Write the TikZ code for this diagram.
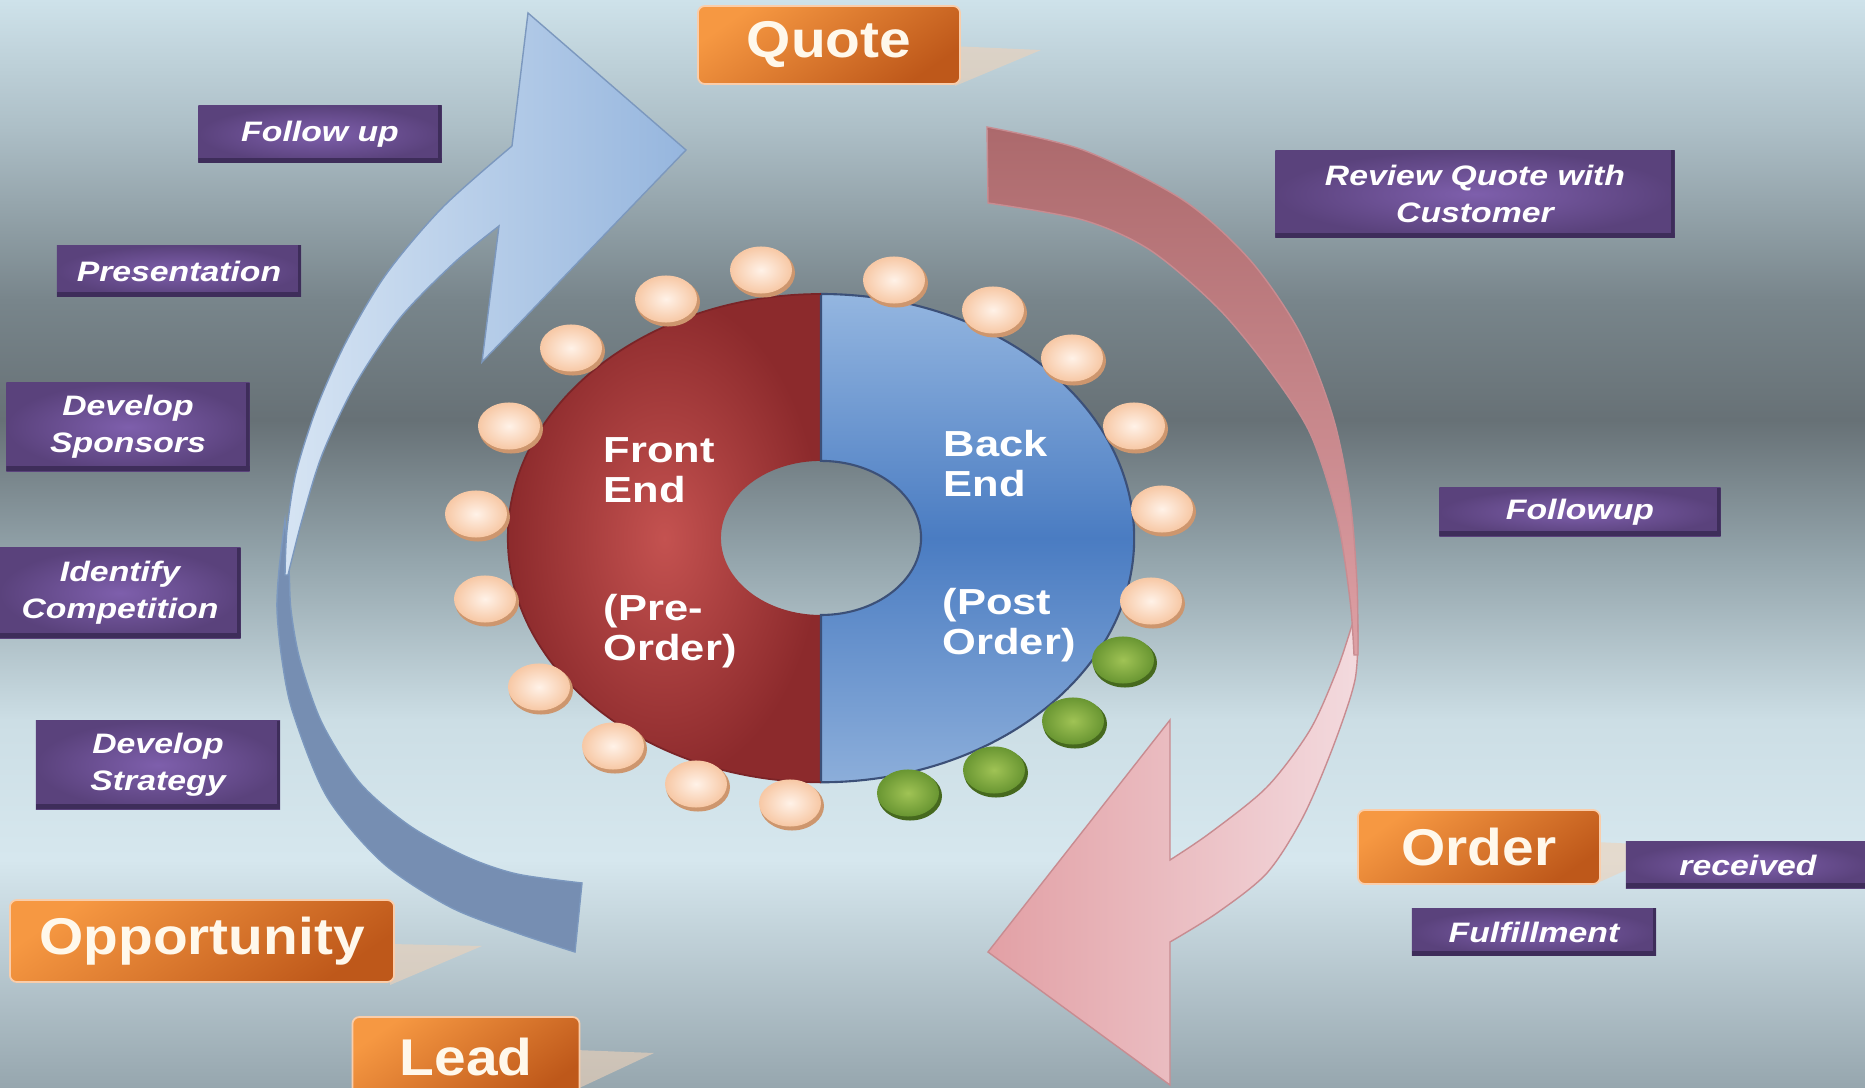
\documentclass[tikz,border=0pt]{standalone}
\usepackage{fontspec}
\setmainfont{Liberation Sans}
\newfontfamily\tagfont[FakeStretch=1.2]{Liberation Sans}
\newfontfamily\stagefont[FakeStretch=1.1]{Liberation Sans}

% slide backdrop
\definecolor{bgTop}{HTML}{CEE2EA}
\definecolor{bgA}{HTML}{ACBEC6}
\definecolor{bgB}{HTML}{78858B}
\definecolor{bgDark}{HTML}{677176}
\definecolor{bgC}{HTML}{94A5AC}
\definecolor{bgD}{HTML}{CCDEE5}
\definecolor{bgLight}{HTML}{D6E7EE}
\definecolor{bgBot}{HTML}{96A6AE}
% cycle arrows
\definecolor{blueBack}{HTML}{768EB2}
\definecolor{blueFrontLight}{HTML}{D6E4F3}
\definecolor{blueFront}{HTML}{96B6DE}
\definecolor{blueEdge}{HTML}{7C98BE}
\definecolor{roseTop}{HTML}{AC696C}
\definecolor{roseBot}{HTML}{DEA0A5}
\definecolor{pinkDark}{HTML}{E2A0A5}
\definecolor{pinkLight}{HTML}{F3DADE}
\definecolor{pinkEdge}{HTML}{C88C91}
% ring
\definecolor{feLight}{HTML}{C45250}
\definecolor{feDark}{HTML}{8C2A2C}
\definecolor{feEdge}{HTML}{7A2427}
\definecolor{beTop}{HTML}{94B6E0}
\definecolor{beMid}{HTML}{4A7CC2}
\definecolor{beBot}{HTML}{8CAEDA}
\definecolor{beEdge}{HTML}{3C5078}
\definecolor{peachLight}{HTML}{FFF2E8}
\definecolor{peach}{HTML}{F7C8A5}
\definecolor{peachRim}{HTML}{CD966E}
\definecolor{greenLight}{HTML}{A0C355}
\definecolor{green}{HTML}{699632}
\definecolor{greenRim}{HTML}{46691E}
% boxes
\definecolor{orangeLight}{HTML}{F69842}
\definecolor{orangeDark}{HTML}{BE581A}
\definecolor{orangeEdge}{HTML}{FACDAA}
\definecolor{stageText}{HTML}{FFF8EB}
\definecolor{tagLight}{HTML}{7E5FAC}
\definecolor{tagDark}{HTML}{5A427C}
\definecolor{tagEdge}{HTML}{3E2D5A}
\definecolor{wedgeTint}{HTML}{EED2B9}

\pgfdeclareverticalshading{slidebg}{100bp}{color(0bp)=(bgBot); color(25bp)=(bgBot);
  color(35.5bp)=(bgLight); color(41.9bp)=(bgD); color(49.3bp)=(bgC);
  color(55.7bp)=(bgDark); color(61.2bp)=(bgB); color(69bp)=(bgA);
  color(75bp)=(bgTop); color(100bp)=(bgTop)}

\begin{document}
\begin{tikzpicture}[x=0.01cm, y=-0.01cm,
  tagbox/.style={shading=radial, inner color=tagLight, outer color=tagDark,
                 text=white, align=center, inner sep=0pt,
                 font=\tagfont\bfseries\itshape\fontsize{8}{10.5}\selectfont,
                 path picture={
                   \fill[tagEdge] (path picture bounding box.south west)
                     rectangle ([yshift=1.4pt]path picture bounding box.south east);
                   \fill[tagEdge] ([xshift=-0.9pt]path picture bounding box.south east)
                     rectangle (path picture bounding box.north east);}},
  stagebox/.style={rounded corners=0.07cm, top color=orangeLight,
                   bottom color=orangeDark, shading angle=35, draw=orangeEdge,
                   line width=0.5pt, text=stageText, inner sep=0pt,
                   font=\stagefont\bfseries\fontsize{14.7}{17}\selectfont},
  ringtext/.style={text=white, align=left, inner sep=0pt, anchor=west,
                   font=\tagfont\bfseries\fontsize{10.3}{11.4}\selectfont},
  wedge/.style={fill=wedgeTint, fill opacity=0.6}
]
\useasboundingbox (0,0) rectangle (1865,1088);
\clip (0,0) rectangle (1865,1088);
\shade[shading=slidebg] (0,0) rectangle (1865,1088);

% pointers behind the stage boxes
\fill[wedge] (950,46) -- (1041,50) -- (955,86) -- cycle;
\fill[wedge] (390,944) -- (482,946) -- (390,985) -- cycle;
\fill[wedge] (575,1050) -- (654,1053) -- (575,1090) -- cycle;
\fill[wedge] (1595,842) -- (1680,846) -- (1595,884) -- cycle;

% left arrow, back and front
\fill[blueBack, draw=blueEdge, line width=0.4pt]
  plot[smooth] coordinates {(285,520) (279,570) (277,610) (282,660)
                            (293,713) (327,797) (383,863) (450,907) (517,933)
                            (575,952)}
  -- (582,883)
  -- plot[smooth] coordinates {(582,883) (517,874) (467,857) (410,826) (360,783)
                               (322,723) (300,660) (291,610) (289,570) (285,520)}
  -- cycle;
\shadedraw[left color=blueFrontLight, right color=blueFront, draw=blueEdge,
           line width=0.4pt]
  plot[smooth] coordinates {(285,575) (287,530) (296,473) (317,407) (347,340)
                            (387,273) (443,207) (512,146)}
  -- (528,13) -- (686,150) -- (482,362) -- (499,226)
  -- plot[smooth] coordinates {(499,226) (455,262) (400,318) (355,385)
                               (322,455) (302,520) (288,575)}
  -- cycle;

% right arrow, front and back
\shadedraw[left color=pinkDark, right color=pinkLight, draw=pinkEdge,
           line width=0.4pt]
  plot[smooth] coordinates {(1358,625) (1355,680) (1333,747) (1303,817)
                            (1267,873) (1217,913) (1170,942)}
  -- (1170,1085) -- (988,952) -- (1170,720) -- (1170,860)
  -- plot[smooth] coordinates {(1170,860) (1210,833) (1267,787) (1310,730)
                               (1337,670) (1352,625)}
  -- cycle;
\shadedraw[top color=roseTop, bottom color=roseBot, draw=pinkEdge,
           line width=0.4pt]
  plot[smooth] coordinates {(987,127) (1083,150) (1183,200) (1250,260)
                            (1300,333) (1333,417) (1350,500) (1357,583) (1358,655)}
  -- plot[smooth] coordinates {(1354,655) (1350,600) (1337,517) (1310,433)
                               (1267,367) (1217,307) (1150,250) (1083,220) (988,203)}
  -- cycle;

% the ring
\shade[shading=radial, inner color=feLight, outer color=feDark]
  (821,294) arc[start angle=90, end angle=270, x radius=3.13cm, y radius=2.44cm]
  -- (821,615) arc[start angle=270, end angle=90, x radius=1cm, y radius=0.77cm]
  -- cycle;
\shadedraw[top color=beTop, bottom color=beBot, middle color=beMid,
           draw=beEdge, line width=0.6pt]
  (821,294) arc[start angle=90, end angle=-90, x radius=3.13cm, y radius=2.44cm]
  -- (821,615) arc[start angle=-90, end angle=90, x radius=1cm, y radius=0.77cm]
  -- cycle;
\draw[feEdge, line width=0.5pt]
  (821,294) arc[start angle=90, end angle=270, x radius=3.13cm, y radius=2.44cm];

% beads round the ring
\foreach \px/\py/\kind in {761/270/peach, 894/280/peach, 993/310/peach,
    1072/358/peach, 1134/426/peach, 1162/509/peach, 1151/601/peach,
    1123/660/green, 1073/721/green, 994/770/green, 908/793/green,
    790/803/peach, 696/784/peach, 613/746/peach, 539/687/peach,
    485/599/peach, 476/514/peach, 509/426/peach, 571/348/peach, 666/299/peach}{
  \fill[fill=\kind Rim] (\px+2,\py+3) ellipse [x radius=0.32cm, y radius=0.245cm];
  \shade[inner color=\kind Light, outer color=\kind]
    (\px,\py) ellipse [x radius=0.31cm, y radius=0.235cm];
}

\node[ringtext] (front) at (603,470) {Front\\End};
\node[ringtext] (preorder) at (603,631) {(Pre-\\Order)};
\node[ringtext] (back) at (943,464) {Back\\End};
\node[ringtext] (postorder) at (942,625) {(Post\\Order)};

% stages
\node[stagebox, minimum width=2.62cm, minimum height=0.78cm] (quote) at (829,45) {Quote};
\node[stagebox, minimum width=3.84cm, minimum height=0.82cm] (opportunity) at (202,941) {Opportunity};
\node[stagebox, minimum width=2.27cm, minimum height=0.80cm] (lead) at (466,1057) {Lead};
\node[stagebox, minimum width=2.42cm, minimum height=0.74cm] (order) at (1479,847) {Order};

% activities
\node[tagbox, minimum width=2.43cm, minimum height=0.57cm] (followup) at (320,134) {Follow up};
\node[tagbox, minimum width=2.44cm, minimum height=0.51cm] (presentation) at (179,271) {Presentation};
\node[tagbox, minimum width=2.43cm, minimum height=0.88cm] (sponsors) at (128,427) {Develop\\Sponsors};
\node[tagbox, minimum width=2.41cm, minimum height=0.90cm] (competition) at (120,593) {Identify\\Competition};
\node[tagbox, minimum width=2.44cm, minimum height=0.88cm] (strategy) at (158,765) {Develop\\Strategy};
\node[tagbox, minimum width=3.99cm, minimum height=0.87cm] (review) at (1475,194) {Review Quote with\\Customer};
\node[tagbox, minimum width=2.81cm, minimum height=0.48cm] (followupr) at (1580,512) {Followup};
\node[tagbox, minimum width=2.44cm, minimum height=0.46cm] (received) at (1748,865) {received};
\node[tagbox, minimum width=2.44cm, minimum height=0.47cm] (fulfil) at (1534,932) {Fulfillment};
\end{tikzpicture}
\end{document}
